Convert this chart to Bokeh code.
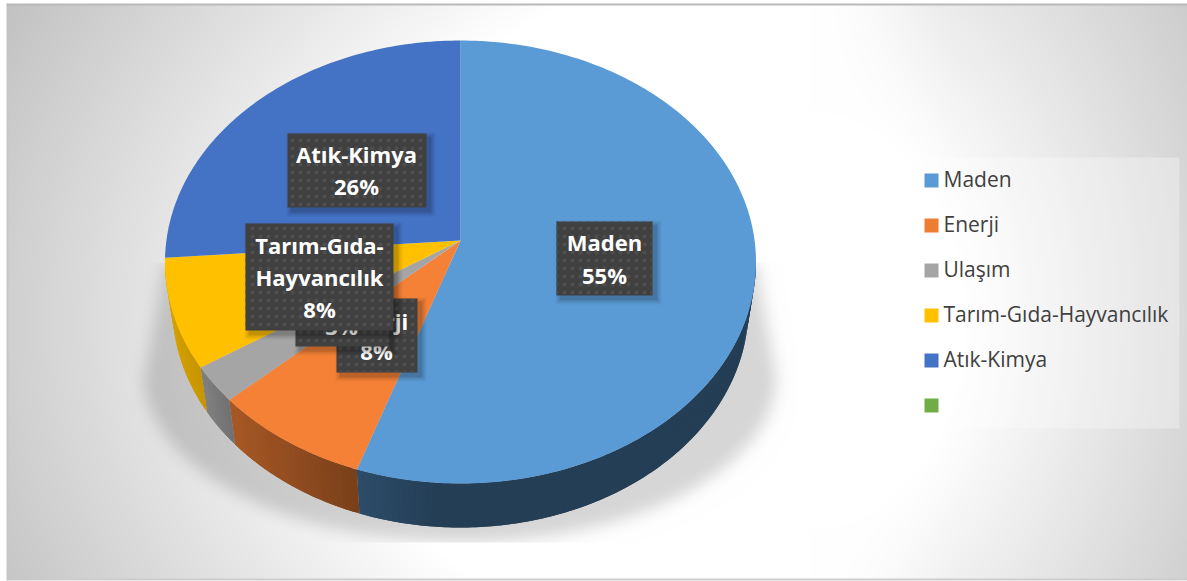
import numpy as np
from bokeh.plotting import figure
from bokeh.models import Range1d
from bokeh.embed import file_html
from bokeh.resources import INLINE
from bokeh.core.properties import value

# ---- data ----
categories = ["Maden", "Enerji", "Ulaşım", "Tarım-Gıda-Hayvancılık", "Atık-Kimya"]
slice_values = [55.7, 8.6, 2.8, 8.2, 24.7]
percent_labels = ["55%", "8%", "3%", "8%", "26%"]
slice_colors = ["#5b9bd5", "#f58136", "#a5a5a5", "#ffc000", "#4472c4"]
legend_names = categories + [""]
legend_colors = ["#5b9bd5", "#ed7d31", "#a5a5a5", "#ffc000", "#4472c4", "#70ad47"]

W, H = 1187, 581
CX, CY, RX, RY = 460.0, 261.5, 295.5, 221.5
APEX_Y = 240.0
BCY, BRX, BRY = 307.0, 288.0, 220.0


def blur(a, r):
    k = np.ones(2 * r + 1) / (2 * r + 1)
    for _ in range(3):
        a = np.apply_along_axis(lambda v: np.convolve(np.pad(v, r, mode="edge"), k, mode="valid"), 0, a)
        a = np.apply_along_axis(lambda v: np.convolve(np.pad(v, r, mode="edge"), k, mode="valid"), 1, a)
    return a


def background():
    yy, xx = np.mgrid[0:H, 0:W].astype(float) + 0.5
    gx, gy = 810.0, 320.0
    dl = np.sqrt(((xx - gx) / 900.0) ** 2 + ((yy - gy) / 700.0) ** 2)
    dr = np.sqrt(((xx - gx) / 520.0) ** 2 + ((yy - gy) / 700.0) ** 2)
    loss_l = 130 * np.clip(dl - 0.53, 0, 1)
    loss_r = 90 * np.clip(dr - 0.3, 0, 1)
    w = np.clip((xx - gx) / 150.0, 0, 1)
    w = w * w * (3 - 2 * w)
    v = 255 - (1 - w) * loss_l - w * loss_r
    # shadow of the pie
    half = RX + np.clip(yy - 262, 0, 113) * (20 / 113)
    trap = (np.abs(xx - CX) < half) & (yy >= 262) & (yy <= 375)
    ell = (((xx - CX) / 316) ** 2 + ((yy - 375) / 167) ** 2 <= 1) & (yy > 375)
    m = blur((trap | ell).astype(float), 7)
    m = m * (yy >= 262) * (yy <= 542)
    v = v * (1 - 0.16 * m)
    # picture frame
    v[:, 6:8] = np.minimum(v[:, 6:8], 200)
    v[3:5, :] = np.minimum(v[3:5, :], 185)
    v[578:580, :] = np.minimum(v[578:580, :], 205)
    v[:, :6] = 255
    v[:3, :] = 255
    v[580:, :] = 255
    g = v.astype(np.uint32)
    return (g | (g << 8) | (g << 16) | (255 << 24)).astype(np.uint32)


p = figure(width=W, height=H, x_range=Range1d(0, W), y_range=Range1d(H, 0),
           toolbar_location=None, output_backend="svg", min_border=0,
           outline_line_color=None, x_axis_type=None, y_axis_type=None)
p.grid.visible = False
p.styles = {"position": "absolute", "left": "0px", "top": "0px"}
p.image_rgba(image=[background()], x=0, y=0, dw=W, dh=H)

# ---- pie -----
cum = np.concatenate([[0], np.cumsum(slice_values)]) / sum(slice_values) * 2 * np.pi


def px(t):
    return CX + RX * np.sin(t)


def py(t):
    return CY - RY * np.cos(t)


def qx(t):
    return CX + BRX * np.sin(t)


def qy(t):
    return BCY - BRY * np.cos(t)


def shade(col, f):
    c = [int(col[i:i + 2], 16) for i in (1, 3, 5)]
    return "#%02x%02x%02x" % tuple(int(min(255, x * f)) for x in c)


sx, sy, sc = [], [], []
for i, col in enumerate(slice_colors):
    a0, a1 = max(cum[i], np.pi / 2), min(cum[i + 1], 3 * np.pi / 2)
    if a1 <= a0:
        continue
    n = max(2, int((a1 - a0) / 0.02))
    e = np.linspace(a0, a1, n + 1)
    for j in range(n):
        # every strip runs under the next one, so that no seam shows
        t = np.linspace(e[j], e[min(j + 2, n)], 4)
        sx.append(list(px(t)) + list(qx(t[::-1])))
        sy.append(list(py(t)) + list(qy(t[::-1])))
        f = np.interp(px(e[j]), [160, 205, 233, 357, 440, 760], [0.85, 0.77, 0.68, 0.5, 0.4, 0.4])
        sc.append(shade(col, f))
p.patches(sx, sy, fill_color=sc, line_color=None)

for i, col in enumerate(slice_colors):
    t = np.linspace(cum[i], cum[i + 1], max(8, int((cum[i + 1] - cum[i]) * 60)))
    p.patch([CX] + list(px(t)), [APEX_Y] + list(py(t)), fill_color=col, line_color=None)

# ---- data labels -----
# (left, right, top, bottom, text centre x, line centre ys, lines)
boxes = [
    (556, 652, 221, 295, 604, [241, 274], [categories[0], percent_labels[0]]),
    (336, 417, 298, 372, 376, [320, 350], [categories[1], percent_labels[1]]),
    (295, 388, 272, 346, 341, [294, 325], [categories[2], percent_labels[2]]),
    (287, 426, 133, 207, 356, [153, 185], [categories[4], percent_labels[4]]),
    (245, 393, 223, 330, 319, [244, 276, 308], ["Tarım-Gıda-", "Hayvancılık", percent_labels[3]]),
]
for l, r, t, b, tx, tys, lines in boxes:
    for g, a in ((5, 0.05), (3, 0.08), (1, 0.12)):
        p.quad(left=l + 4 - g, right=r + 4 + g, top=t + 4 - g, bottom=b + 4 + g,
               fill_color="#000000", fill_alpha=a, line_color=None)
    p.quad(left=l, right=r, top=t, bottom=b, fill_color="#404040", line_color=None,
           hatch_pattern="dot", hatch_color="#4e4e4e", hatch_scale=8, hatch_weight=1.5)
    p.text(x=[tx] * len(lines), y=tys, text=lines, text_color="#ffffff",
           text_font=value("Open Sans"), text_font_style="bold", text_font_size="22px",
           text_align="center", text_baseline="middle")

# ---- legend -----
p.quad(left=918, right=1179, top=157, bottom=428, fill_color="#ffffff", fill_alpha=0.3, line_color=None)
ly = [180 + 45 * i for i in range(6)]
p.rect(x=[931] * 6, y=ly, width=14, height=14, fill_color=legend_colors, line_color=None)
p.text(x=[943] * 6, y=[v - 2 for v in ly], text=legend_names, text_color="#404040",
       text_font=value("Open Sans"), text_font_size="21px", text_align="left", text_baseline="middle")

open("out.html", "w").write(file_html(p, INLINE))
